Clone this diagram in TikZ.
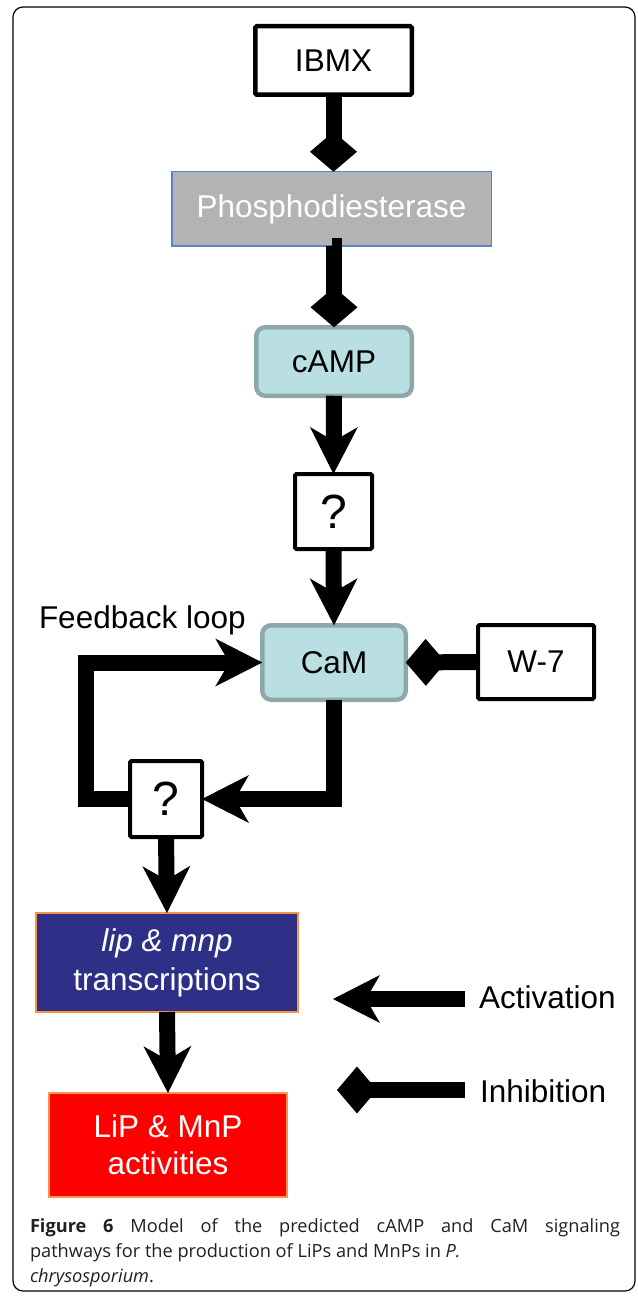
\documentclass[tikz,border=0pt]{standalone}
\usepackage{fontspec}
\setmainfont{Liberation Sans}
\newfontfamily\capfont{Open Sans}
\usetikzlibrary{arrows.meta}
\definecolor{phfill}{HTML}{B3B3B3}
\definecolor{phdraw}{HTML}{5B84C4}
\definecolor{cyanfill}{HTML}{B9DFE2}
\definecolor{cyandraw}{HTML}{8EA8AA}
\definecolor{lipfill}{HTML}{2E3088}
\definecolor{orangedraw}{HTML}{F79646}
\definecolor{capcol}{HTML}{231F20}
\begin{document}
\begin{tikzpicture}[x=1pt,y=-1pt,
  every node/.style={inner sep=0pt, outer sep=0pt, font=\fontsize{31.5}{37}\selectfont},
  blackbox/.style={draw=black, line width=4.5pt, fill=white, rounded corners=1.5pt},
  qbox/.style={blackbox, line width=4pt, font=\fontsize{48}{50}\selectfont},
  cyanbox/.style={draw=cyandraw, line width=4.5pt, fill=cyanfill, rounded corners=9pt},
  colbox/.style={draw=orangedraw, line width=2pt, text=white, align=center},
  act/.style={line width=16pt, -{Stealth[length=47pt, width=48pt, inset=14pt, line width=0pt]}},
  inh/.style={line width=16pt, -{Diamond[length=40pt, width=47pt, line width=0pt]}},
  lbl/.style={anchor=base west}
]
\useasboundingbox (0,0) rectangle (637,1297);
\draw[line width=1.2pt, rounded corners=10pt] (13,7) rectangle (635,1291);

\node[blackbox, minimum width=156.5pt, minimum height=68.5pt] (ibmx) at (333.5,60.5) {IBMX};
\node[draw=phdraw, line width=1.5pt, fill=phfill, text=white, minimum width=319.5pt, minimum height=74.5pt] (pde) at (331.5,209) {Phosphodiesterase};
\node[cyanbox, minimum width=155.5pt, minimum height=68.5pt] (camp) at (334,361.5) {cAMP};
\node[qbox, minimum width=77pt, minimum height=75pt] (q1) at (333.5,511.5) {?};
\node[cyanbox, minimum width=143.5pt, minimum height=74.5pt] (cam) at (334,662.5) {CaM};
\node[blackbox, line width=4pt, minimum width=116pt, minimum height=74pt] (w7) at (536,662) {W-7};
\node[qbox, minimum width=72pt, minimum height=76pt] (q2) at (166,799) {?};
\node[colbox, fill=lipfill, minimum width=262pt, minimum height=99pt, font=\fontsize{31.5}{39}\selectfont] (lip) at (167,962.5) {\textit{lip \& mnp}\\transcriptions};
\node[colbox, fill=red, minimum width=238pt, minimum height=104pt] (lipact) at (168,1145) {LiP \& MnP\\activities};

\node[lbl] (fb) at (39,628) {Feedback loop};
\node[lbl] (actlab) at (479,1008) {Activation};
\node[lbl] (inhlab) at (480,1102) {Inhibition};

\coordinate (a1s) at (465,999);
\coordinate (a1e) at (333,999);
\coordinate (i1s) at (465,1090);
\coordinate (i1e) at (337,1090);

\draw[inh] (ibmx.south) -- (ibmx.south |- pde.north);
\draw[inh] (pde.south) -- (pde.south -| camp.north) -- (camp.north);
\draw[act] (camp.south) -- (q1.north);
\draw[act] (q1.south) -- (cam.north);
\draw[inh] (w7.west) -- (cam.east);
\draw[act] (cam.south) |- (q2.east);
\draw[act] (q2.west) -- ++(-44,0) |- (cam.west);
\draw[act] (q2.south) -- (lip.north);
\draw[act] (lip.south) -- (lipact.north);
\draw[act] (a1s) -- (a1e);
\draw[inh] (i1s) -- (i1e);

\node[anchor=north west, text width=590pt, align=justify, inner sep=0pt,
  font=\capfont\fontsize{18.2}{25}\selectfont, text=capcol] (cap) at (30,1219)
  {\textbf{Figure 6} Model of the predicted cAMP and CaM signaling\linebreak
   pathways for the production of LiPs and MnPs in \textit{P.}\newline
   \textit{chrysosporium}.};
\end{tikzpicture}
\end{document}
